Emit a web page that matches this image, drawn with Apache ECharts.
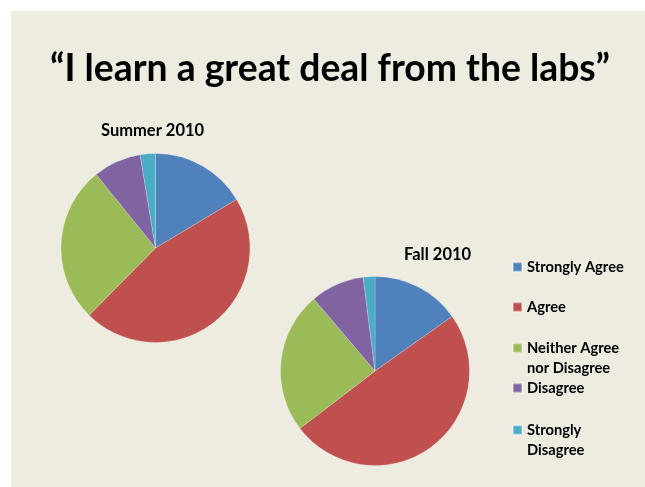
<!DOCTYPE html>
<html>
<head>
<meta charset="utf-8">
<script src="https://cdn.jsdelivr.net/npm/echarts@6/dist/echarts.min.js"></script>
<style>
  html, body { margin: 0; padding: 0; background: #ffffff; }
  #chart { width: 645px; height: 487px; }
</style>
</head>
<body>
<div id="chart"></div>
<script>
// Survey responses (percent of students), two terms
const categories = ['Strongly Agree', 'Agree', 'Neither Agree nor Disagree', 'Disagree', 'Strongly Disagree'];
// Legend wording, broken over two lines where the entry wraps
const legendLabels = ['Strongly Agree', 'Agree', 'Neither Agree\nnor Disagree', 'Disagree', 'Strongly\nDisagree'];
const summer2010 = [16.4, 46.0, 26.8, 8.2, 2.6];
const fall2010 = [15.2, 49.4, 24.2, 9.2, 2.0];
const colors = ['#4F81BD', '#C0504D', '#9BBB59', '#8064A2', '#4BACC6'];

const FONT = 'Lato, "Open Sans", sans-serif';

function toData(values) {
  return categories.map((name, i) => ({ name: name, value: values[i] }));
}

function pieSeries(name, values, center) {
  return {
    name: name,
    type: 'pie',
    center: center,
    radius: 94.5,
    startAngle: 90,
    clockwise: true,
    label: { show: false },
    labelLine: { show: false },
    emphasis: { disabled: true },
    itemStyle: { borderColor: 'rgba(255,255,255,0.35)', borderWidth: 0.6 },
    data: toData(values)
  };
}

// One legend block per category so each entry sits at its own slot.
// Wrapped entries get a blank leading line so the swatch lines up with the first line.
const legendTops = [257, 297, 318, 378, 400];
const legends = categories.map((name, i) => {
  const wrapped = legendLabels[i].indexOf('\n') >= 0;
  const label = wrapped ? '\n' + legendLabels[i] : legendLabels[i];
  return {
    data: [name],
    left: 512,
    top: legendTops[i],
    padding: 0,
    itemWidth: 9,
    itemHeight: 9,
    icon: 'rect',
    selectedMode: false,
    formatter: () => label,
    textStyle: {
      fontFamily: FONT,
      fontWeight: 'bold',
      fontSize: 14.7,
      color: '#000',
      lineHeight: 20
    }
  };
});

const chart = echarts.init(document.getElementById('chart'), null, { renderer: 'canvas' });
chart.setOption({
  backgroundColor: '#ffffff',
  animation: false,
  color: colors,
  graphic: [{
    type: 'rect',
    z: -10,
    silent: true,
    shape: { x: 11, y: 11, width: 634, height: 476 },
    style: { fill: '#EEECE1' }
  }],
  title: [
    {
      text: '\u201CI learn a great deal from the labs\u201D',
      left: 50,
      top: 50,
      padding: 0,
      textStyle: { fontFamily: FONT, fontWeight: 'bold', fontSize: 37.3, color: '#000' }
    },
    {
      text: 'Summer 2010',
      left: 101,
      top: 122,
      padding: 0,
      textStyle: { fontFamily: FONT, fontWeight: 'bold', fontSize: 16.5, color: '#000' }
    },
    {
      text: 'Fall 2010',
      left: 404,
      top: 246,
      padding: 0,
      textStyle: { fontFamily: FONT, fontWeight: 'bold', fontSize: 16.5, color: '#000' }
    }
  ],
  legend: legends,
  series: [
    pieSeries('Summer 2010', summer2010, [155.5, 248]),
    pieSeries('Fall 2010', fall2010, [375, 371])
  ]
});
</script>
</body>
</html>
